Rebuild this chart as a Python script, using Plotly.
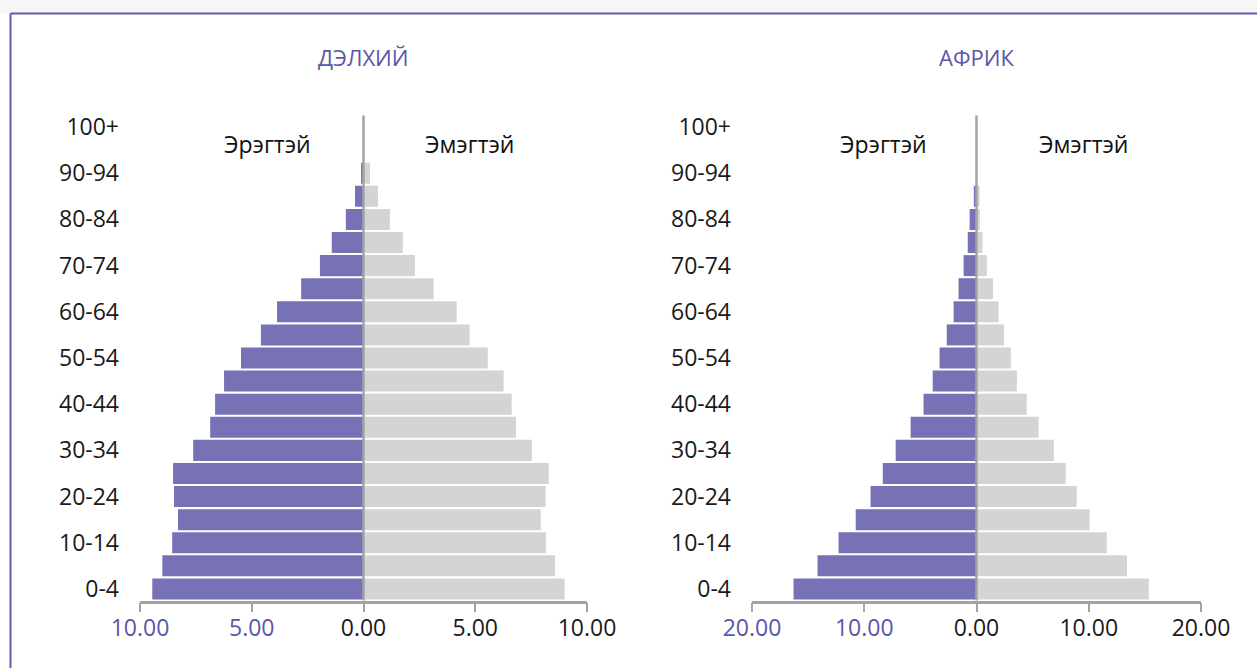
import plotly.graph_objects as go

ages = ["0-4", "5-9", "10-14", "15-19", "20-24", "25-29", "30-34", "35-39",
        "40-44", "45-49", "50-54", "55-59", "60-64", "65-69", "70-74", "75-79",
        "80-84", "85-89", "90-94", "95-99", "100+"]

world_male = [9.45, 9.0, 8.56, 8.30, 8.48, 8.52, 7.62, 6.86, 6.64, 6.24, 5.48,
              4.59, 3.87, 2.79, 1.95, 1.42, 0.79, 0.38, 0.11, 0.0, 0.0]
world_female = [9.0, 8.57, 8.16, 7.93, 8.15, 8.29, 7.53, 6.82, 6.63, 6.27, 5.56,
                4.75, 4.17, 3.14, 2.30, 1.76, 1.18, 0.65, 0.29, 0.0, 0.0]

africa_male = [16.3, 14.16, 12.29, 10.76, 9.44, 8.35, 7.2, 5.87, 4.72, 3.9, 3.29,
               2.65, 2.04, 1.6, 1.15, 0.78, 0.61, 0.24, 0.0, 0.0, 0.0]
africa_female = [15.35, 13.41, 11.61, 10.08, 8.93, 7.95, 6.89, 5.53, 4.48, 3.6, 3.06,
                 2.44, 1.97, 1.46, 0.92, 0.54, 0.3, 0.27, 0.0, 0.0, 0.0]

titles = ["ДЭЛХИЙ", "АФРИК"]
male_label = "Эрэгтэй"
female_label = "Эмэгтэй"

world_ticks = [-10, -5, 0, 5, 10]
africa_ticks = [-20, -10, 0, 10, 20]

W, H = 1257, 668
MALE_C = "#7772b5"
FEMALE_C = "#d3d4d6"
TITLE_C = "#5a56a8"
AXIS_C = "#a3a3a6"
FONT = "Open Sans"

idx = list(range(len(ages)))

fig = go.Figure()
panels = [
    (world_male, world_female, "x", "y"),
    (africa_male, africa_female, "x2", "y2"),
]
for male, female, xa, ya in panels:
    fig.add_trace(go.Bar(y=idx, x=[-v for v in male], orientation="h",
                         marker=dict(color=MALE_C, line=dict(width=0)),
                         xaxis=xa, yaxis=ya, showlegend=False, name=male_label))
    fig.add_trace(go.Bar(y=idx, x=female, orientation="h",
                         marker=dict(color=FEMALE_C, line=dict(width=0)),
                         xaxis=xa, yaxis=ya, showlegend=False, name=female_label))


def tick_text(vals):
    out = []
    for v in vals:
        s = f"{abs(v):.2f}"
        if v < 0:
            s = f"<span style='color:{TITLE_C}'>{s}</span>"
        out.append(s)
    return out


ydom = [1 - 600.5 / H, 1 - 115.5 / H]
xdom1 = [140 / W, 587 / W]
xdom2 = [752 / W, 1201 / W]

common_x = dict(showgrid=False, zeroline=False, showline=True, linecolor=AXIS_C,
                linewidth=2.5, ticks="outside", ticklen=9, tickwidth=2,
                tickcolor=AXIS_C, tickfont=dict(family=FONT, size=23, color="#1a1a1a"),
                ticklabelstandoff=-4, fixedrange=True, automargin=False)
common_y = dict(showgrid=False, zeroline=False, showline=False, range=[-0.5, 20.5],
                tickvals=idx[::2], ticktext=ages[::2], ticks="",
                tickfont=dict(family=FONT, size=23, color="#1a1a1a"),
                ticklabelstandoff=20, domain=ydom, fixedrange=True, automargin=False)

fig.update_layout(
    width=W, height=H,
    margin=dict(l=0, r=0, t=0, b=0, pad=0),
    paper_bgcolor="white", plot_bgcolor="white",
    barmode="relative", bargap=0.09,
    font=dict(family=FONT),
    xaxis=dict(common_x, domain=xdom1, range=[-10, 10], tickvals=world_ticks,
               ticktext=tick_text(world_ticks), anchor="y"),
    yaxis=dict(common_y, anchor="x"),
    xaxis2=dict(common_x, domain=xdom2, range=[-20, 20], tickvals=africa_ticks,
                ticktext=tick_text(africa_ticks), anchor="y2"),
    yaxis2=dict(common_y, anchor="x2"),
)

# center lines
for xa, ya in [("x", "y"), ("x2", "y2")]:
    fig.add_shape(type="line", xref=xa, yref=f"{ya} domain", x0=0, x1=0, y0=0, y1=1,
                  line=dict(color=AXIS_C, width=2.5), layer="above")

# frame
fig.add_shape(type="rect", xref="paper", yref="paper", x0=0, x1=1, y0=1 - 13 / H, y1=1,
              fillcolor="#f6f6f6", line=dict(width=0), layer="below")
fig.add_shape(type="line", xref="paper", yref="paper", x0=10.5 / W, x1=1,
              y0=1 - 13.5 / H, y1=1 - 13.5 / H, line=dict(color="#5f5ca8", width=2))
fig.add_shape(type="line", xref="paper", yref="paper", x0=10.5 / W, x1=10.5 / W,
              y0=0, y1=1 - 13.5 / H, line=dict(color="#5f5ca8", width=2))

# titles
for title, dom in zip(titles, [xdom1, xdom2]):
    fig.add_annotation(text=title, xref="paper", yref="paper",
                       x=(dom[0] + dom[1]) / 2, y=1 - 57 / H, showarrow=False,
                       font=dict(family=FONT, size=22, color=TITLE_C),
                       xanchor="center", yanchor="middle")

# sex labels
lab_pos = [("x", "y", -4.3, 4.75), ("x2", "y2", -8.3, 9.5)]
for xa, ya, xm, xf in lab_pos:
    fig.add_annotation(text=male_label, xref=xa, yref=ya, x=xm, y=19.25,
                       showarrow=False, font=dict(family=FONT, size=23, color="#111111"))
    fig.add_annotation(text=female_label, xref=xa, yref=ya, x=xf, y=19.25,
                       showarrow=False, font=dict(family=FONT, size=23, color="#111111"))

fig.write_html(
    "out.html",
    config={"displayModeBar": False},
    post_script="document.body.style.margin='0';document.body.style.overflow='hidden';",
)
